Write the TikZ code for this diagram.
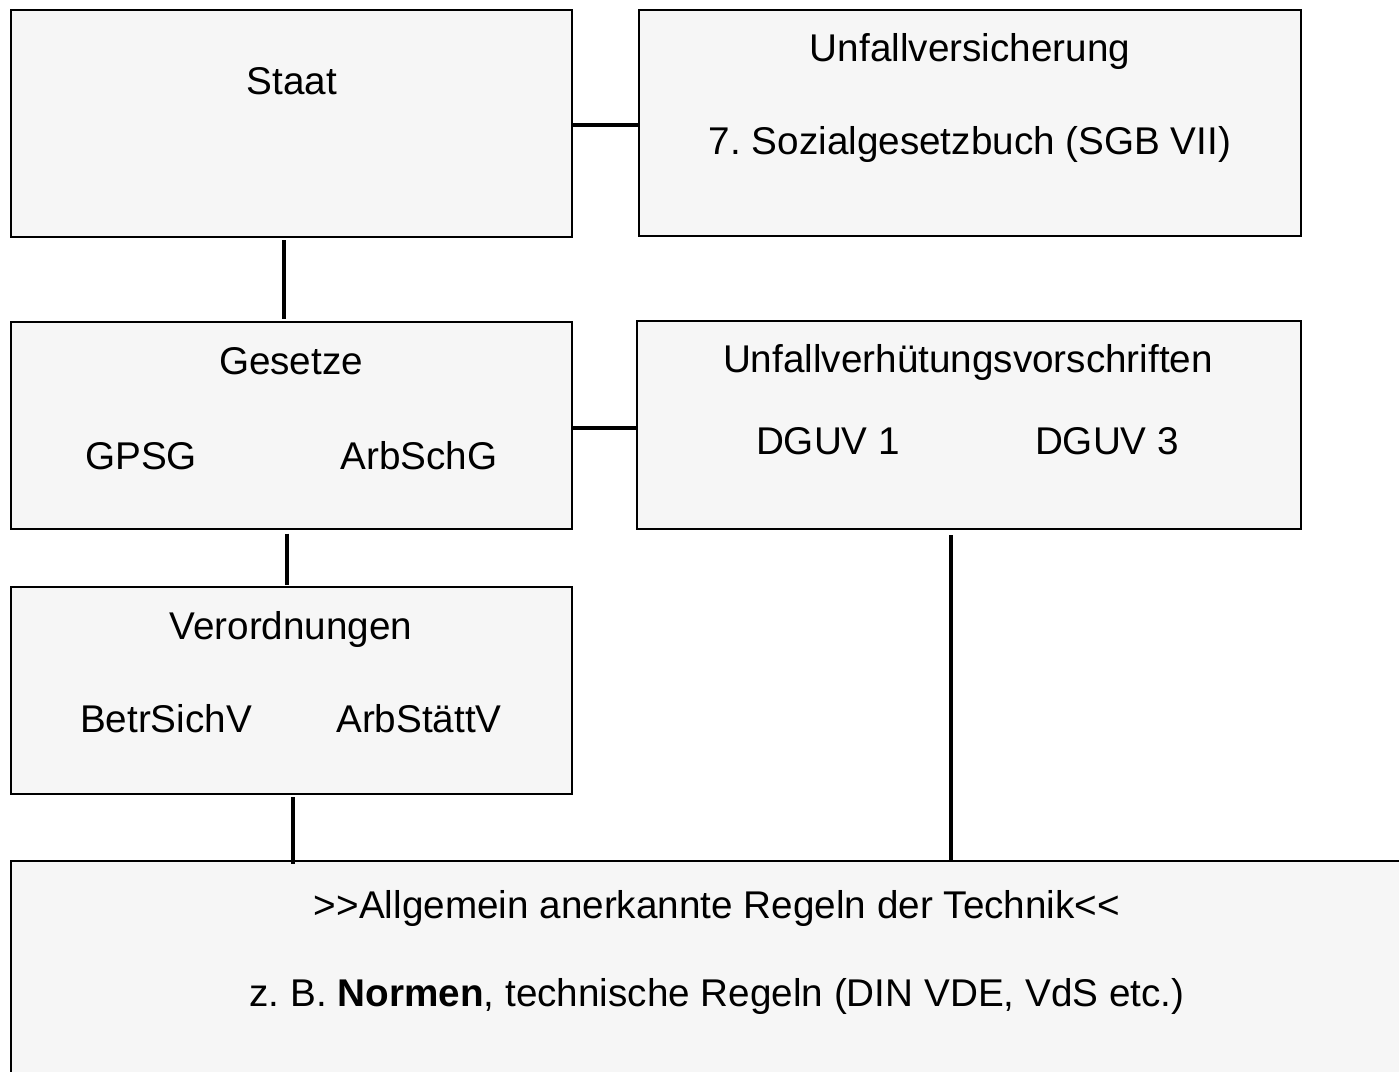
\documentclass[tikz,border=0pt]{standalone}
\usepackage{fontspec}
\setmainfont{Liberation Sans}
\usepackage{tikz}
\usetikzlibrary{positioning}
\definecolor{boxgray}{RGB}{246,246,246}
\frenchspacing

\begin{document}
\begin{tikzpicture}[x=0.75pt, y=-0.75pt,
    box/.style={draw, line width=1.1pt, fill=boxgray, inner sep=0pt},
    link/.style={line width=2.3pt},
    lbl/.style={anchor=base, inner sep=0pt, font=\fontsize{29}{35}\selectfont}]

    \clip (0,0) rectangle (1399,1071);
    \fill[white] (0,0) rectangle (1399,1071);

    % Define nodes
    \node[box, minimum width=561*0.75pt, minimum height=227*0.75pt] (staat) at (291.5,123.5) {};
    \node[box, minimum width=662*0.75pt, minimum height=226*0.75pt] (uv) at (970,123) {};
    \node[box, minimum width=561*0.75pt, minimum height=207*0.75pt] (gesetze) at (291.5,425.5) {};
    \node[box, minimum width=664*0.75pt, minimum height=208*0.75pt] (uvv) at (969,425) {};
    \node[box, minimum width=561*0.75pt, minimum height=207*0.75pt] (vo) at (291.5,690.5) {};
    \node[box, minimum width=1409*0.75pt, minimum height=229*0.75pt] (regeln) at (715.5,975.5) {};

    % Labels
    \node[lbl] (staatT) at (292,94) {Staat};
    \node[lbl] (uvT) at (970,61) {Unfallversicherung};
    \node[lbl] (sgb) at (970,154) {7. Sozialgesetzbuch (SGB VII)};
    \node[lbl] (gesetzeT) at (291,374) {Gesetze};
    \node[lbl] (gpsg) at (141,469) {GPSG};
    \node[lbl] (arbschg) at (419,469) {ArbSchG};
    \node[lbl] (uvvT) at (968,372) {Unfallverhütungsvorschriften};
    \node[lbl] (dguv1) at (828,454) {DGUV 1};
    \node[lbl] (dguv3) at (1107,454) {DGUV 3};
    \node[lbl] (voT) at (291,639) {Verordnungen};
    \node[lbl] (betr) at (166,732) {BetrSichV};
    \node[lbl] (arbst) at (419,732) {ArbStättV};
    \node[lbl] (regelnT) at (717,918) {>{}>Allgemein anerkannte Regeln der Technik<{}<};
    \node[lbl] (normen) at (717,1006) {z. B. \textbf{Normen}, technische Regeln (DIN VDE, VdS etc.)};

    % Draw connectors
    \draw[link] (staat.east |- 0,125) -- (uv.west |- 0,125);
    \draw[link] ([yshift=-2pt]staat.south -| 284,0) -- ([yshift=2pt]gesetze.north -| 284,0);
    \draw[link] (gesetze.east |- 0,428) -- (uvv.west |- 0,428);
    \draw[link] ([yshift=-3pt]gesetze.south -| 287,0) -- ([yshift=1pt]vo.north -| 287,0);
    \draw[link] ([yshift=-2pt]vo.south -| 293,0) -- ([yshift=-3pt]regeln.north -| 293,0);
    \draw[link] ([yshift=-4pt]uvv.south -| 951,0) -- (regeln.north -| 951,0);

\end{tikzpicture}
\end{document}
